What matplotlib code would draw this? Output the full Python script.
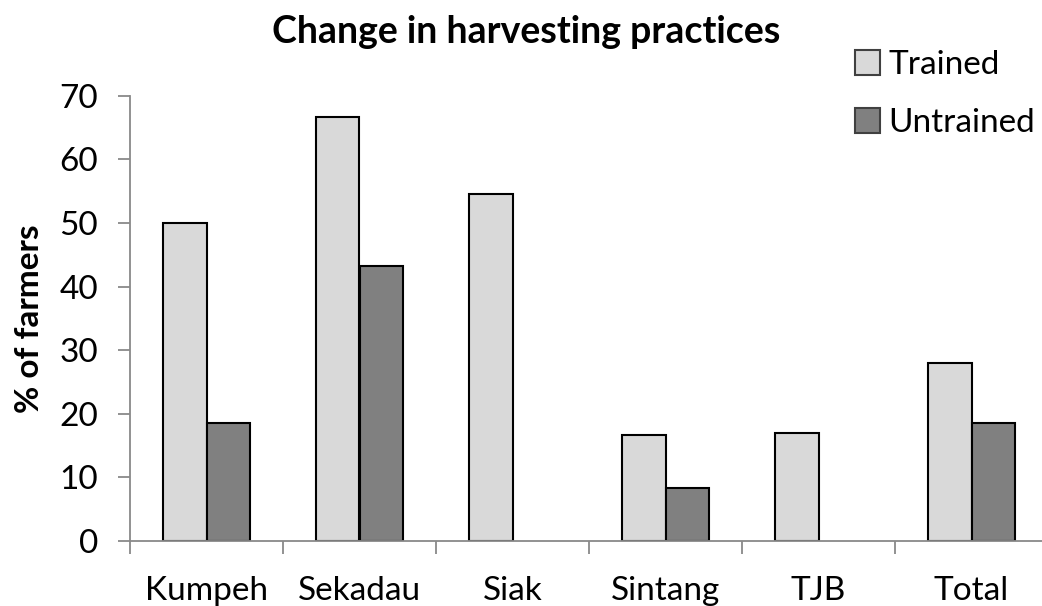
import matplotlib
matplotlib.use("Agg")
import matplotlib.pyplot as plt
import numpy as np

plt.rcParams["font.family"] = ["Lato", "DejaVu Sans"]

# data
districts = ["Kumpeh", "Sekadau", "Siak", "Sintang", "TJB", "Total"]
trained = [50.0, 66.7, 54.5, 16.7, 17.0, 28.0]
untrained = [18.6, 43.3, 0.0, 8.3, 0.0, 18.6]
yticks = [0, 10, 20, 30, 40, 50, 60, 70]

W, H = 1042, 606
fig = plt.figure(figsize=(W / 100, H / 100), dpi=100)
# plot area runs past the right edge, like the cropped original
ax = fig.add_axes([130 / W, 1 - 541 / H, 918 / W, (541 - 95.7) / H])

x = np.arange(len(districts))
bw = 0.286
grey = "#898989"
# zero-height bars get no outline, as in the original
lw_t = [1.5 if v > 0 else 0 for v in trained]
lw_u = [1.5 if v > 0 else 0 for v in untrained]
ax.bar(x - bw / 2, trained, bw, color="#d9d9d9", edgecolor="black",
       linewidth=lw_t, label="Trained")
ax.bar(x + bw / 2, untrained, bw, color="#808080", edgecolor="black",
       linewidth=lw_u, label="Untrained")

ax.set_xlim(-0.5, len(districts) - 0.5)
ax.set_ylim(0, 70)
ax.set_yticks(yticks)
ax.tick_params(axis="y", labelsize=24, length=9, width=1.3, color=grey, pad=14)
ax.set_xticks(x)
ax.set_xticklabels(districts)
ax.set_xticks(np.arange(len(districts) + 1) - 0.5, minor=True)
ax.tick_params(axis="x", which="major", length=0, labelsize=24, pad=25)
ax.tick_params(axis="x", which="minor", length=9, width=1.3, color=grey)
for s in ["top", "right"]:
    ax.spines[s].set_visible(False)
for s in ["left", "bottom"]:
    ax.spines[s].set_color(grey)
    ax.spines[s].set_linewidth(1.3)

ax.set_ylabel("% of farmers", fontsize=24, fontweight="bold", labelpad=11)
fig.text(0.505, 0.948, "Change in harvesting practices", ha="center",
         va="center", fontsize=27, fontweight="bold")

leg = fig.legend(loc="upper left", bbox_to_anchor=(855 / W, 1 - 50 / H),
                 frameon=False, fontsize=24, handlelength=0.75,
                 handleheight=0.75, handletextpad=0.25, labelspacing=0.85,
                 borderaxespad=0, borderpad=0)
for p in leg.get_patches():
    p.set_edgecolor("#404040")

fig.savefig("out.png", dpi=100)
